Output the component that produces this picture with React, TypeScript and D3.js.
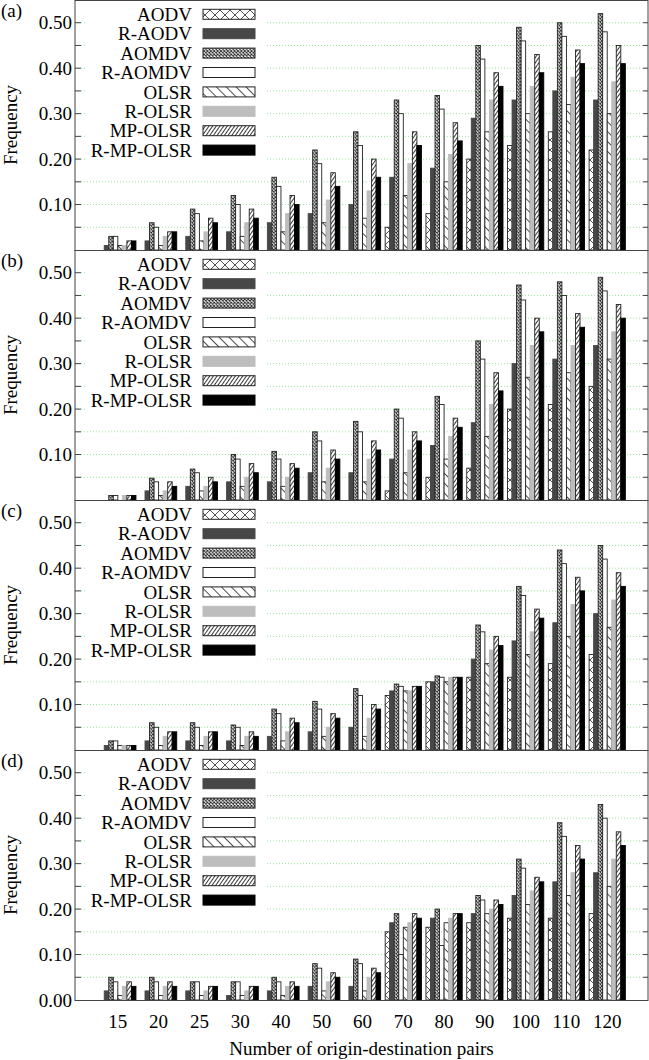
import React from "react";
import * as d3 from "d3";

const categories = ["15", "20", "25", "30", "40", "50", "60", "70", "80", "90", "100", "110", "120"];
const seriesNames = ["AODV", "R-AODV", "AOMDV", "R-AOMDV", "OLSR", "R-OLSR", "MP-OLSR", "R-MP-OLSR"];
const panelLabels = ["(a)", "(b)", "(c)", "(d)"];
const yTickLabels = [0.1, 0.2, 0.3, 0.4, 0.5];

// one row per series, in seriesNames order
const panelA = [
  [0, 0, 0, 0, 0, 0, 0, 0.05, 0.08, 0.2, 0.23, 0.26, 0.22],
  [0.01, 0.02, 0.03, 0.04, 0.06, 0.08, 0.1, 0.16, 0.18, 0.29, 0.33, 0.35, 0.33],
  [0.03, 0.06, 0.09, 0.12, 0.16, 0.22, 0.26, 0.33, 0.34, 0.45, 0.49, 0.5, 0.52],
  [0.03, 0.05, 0.08, 0.1, 0.14, 0.19, 0.23, 0.3, 0.31, 0.42, 0.46, 0.47, 0.48],
  [0.01, 0.01, 0.02, 0.03, 0.04, 0.06, 0.07, 0.12, 0.15, 0.26, 0.3, 0.32, 0.3],
  [0.01, 0.03, 0.04, 0.06, 0.08, 0.11, 0.13, 0.19, 0.21, 0.33, 0.36, 0.38, 0.37],
  [0.02, 0.04, 0.07, 0.09, 0.12, 0.17, 0.2, 0.26, 0.28, 0.39, 0.43, 0.44, 0.45],
  [0.02, 0.04, 0.06, 0.07, 0.1, 0.14, 0.16, 0.23, 0.24, 0.36, 0.39, 0.41, 0.41],
];
const panelB = [
  [0, 0, 0, 0, 0, 0, 0, 0.02, 0.05, 0.07, 0.2, 0.21, 0.25],
  [0, 0.02, 0.03, 0.04, 0.04, 0.06, 0.06, 0.09, 0.12, 0.17, 0.3, 0.31, 0.34],
  [0.01, 0.048, 0.068, 0.1, 0.107, 0.15, 0.173, 0.2, 0.228, 0.35, 0.473, 0.48, 0.49],
  [0.01, 0.04, 0.06, 0.09, 0.09, 0.13, 0.15, 0.18, 0.21, 0.31, 0.44, 0.45, 0.46],
  [0, 0.01, 0.02, 0.03, 0.03, 0.04, 0.04, 0.06, 0.09, 0.14, 0.27, 0.28, 0.31],
  [0.01, 0.02, 0.03, 0.05, 0.05, 0.07, 0.09, 0.11, 0.14, 0.21, 0.34, 0.34, 0.37],
  [0.01, 0.04, 0.05, 0.08, 0.08, 0.11, 0.13, 0.15, 0.18, 0.28, 0.4, 0.41, 0.43],
  [0.01, 0.03, 0.04, 0.06, 0.07, 0.09, 0.11, 0.13, 0.16, 0.24, 0.37, 0.38, 0.4],
];
const panelC = [
  [0, 0, 0, 0, 0, 0, 0, 0.12, 0.15, 0.16, 0.16, 0.19, 0.21],
  [0.01, 0.02, 0.02, 0.02, 0.03, 0.04, 0.05, 0.13, 0.15, 0.2, 0.24, 0.28, 0.3],
  [0.02, 0.06, 0.06, 0.055, 0.09, 0.107, 0.135, 0.145, 0.163, 0.275, 0.36, 0.44, 0.45],
  [0.02, 0.05, 0.05, 0.05, 0.08, 0.09, 0.12, 0.14, 0.16, 0.26, 0.34, 0.41, 0.42],
  [0.01, 0.01, 0.01, 0.01, 0.02, 0.03, 0.03, 0.13, 0.15, 0.19, 0.21, 0.25, 0.27],
  [0.01, 0.03, 0.03, 0.03, 0.04, 0.05, 0.07, 0.13, 0.16, 0.22, 0.26, 0.32, 0.33],
  [0.01, 0.04, 0.04, 0.04, 0.07, 0.08, 0.1, 0.14, 0.16, 0.25, 0.31, 0.38, 0.39],
  [0.01, 0.04, 0.04, 0.03, 0.06, 0.07, 0.09, 0.14, 0.16, 0.23, 0.29, 0.35, 0.36],
];
const panelD = [
  [0, 0, 0, 0, 0, 0, 0, 0.15, 0.16, 0.17, 0.18, 0.18, 0.19],
  [0.02, 0.02, 0.02, 0.01, 0.02, 0.03, 0.03, 0.17, 0.18, 0.19, 0.23, 0.26, 0.28],
  [0.05, 0.05, 0.04, 0.04, 0.05, 0.08, 0.09, 0.19, 0.2, 0.23, 0.31, 0.39, 0.43],
  [0.04, 0.04, 0.04, 0.04, 0.04, 0.07, 0.08, 0.1, 0.12, 0.22, 0.29, 0.36, 0.4],
  [0.01, 0.01, 0.01, 0.01, 0.01, 0.02, 0.02, 0.16, 0.17, 0.19, 0.21, 0.23, 0.25],
  [0.03, 0.03, 0.02, 0.02, 0.03, 0.04, 0.05, 0.17, 0.18, 0.2, 0.24, 0.28, 0.31],
  [0.04, 0.04, 0.03, 0.03, 0.04, 0.06, 0.07, 0.19, 0.19, 0.22, 0.27, 0.34, 0.37],
  [0.03, 0.03, 0.03, 0.03, 0.03, 0.05, 0.06, 0.18, 0.19, 0.21, 0.26, 0.31, 0.34],
];
const panels = [panelA, panelB, panelC, panelD];

const W = 649;
const H = 1060;
const left = 75;
const right = 648;
const panelH = 250;
const font = "'Liberation Serif', 'Times New Roman', serif";
const fs = 19;

// fill per series: solid colours or svg pattern ids
const fills = ["url(#pAodv)", "#474747", "url(#pAomdv)", "#ffffff", "url(#pOlsr)", "#bdbdbd", "url(#pMp)", "#000000"];
const strokes = ["#222", "#474747", "#222", "#222", "#222", "#bdbdbd", "#222", "#000"];
const patterned = [true, false, true, false, true, false, true, false];

const x = d3.scaleLinear().domain([-1.05, 13]).range([left, right]);
const groupW = x(1) - x(0);
const inner = d3
  .scaleBand()
  .domain(seriesNames)
  .range([-groupW * 4 / 9, groupW * 4 / 9]);

function Panel({ idx, data }: { idx: number; data: number[][] }) {
  const top = idx * panelH;
  const y = d3.scaleLinear().domain([0, 0.55]).range([top + panelH, top]);
  const minor = d3.range(1, 11).map(d => d * 0.05);
  const labels = idx === 3 ? [0, ...yTickLabels] : yTickLabels;
  const fmt = d3.format(".2f");
  const bw = inner.bandwidth();
  const legendX = 203;
  const legendY = top + 14.3;
  const rowH = 19.4;

  return (
    <g>
      {/* grid */}
      {minor.map(v => (
        <line
          key={"g" + v}
          x1={left}
          x2={right}
          y1={y(v)}
          y2={y(v)}
          stroke="#9be89b"
          strokeWidth={1}
          strokeDasharray="1,2"
        />
      ))}
      {/* opaque key */}
      <rect x={87} y={top + 1} width={179} height={161} fill="#fff" />
      {seriesNames.map((s, j) => (
        <g key={"k" + s}>
          <text
            x={192}
            y={legendY + j * rowH}
            dy="0.35em"
            textAnchor="end"
            fontFamily={font}
            fontSize={fs}
            fill="#000"
          >
            {s}
          </text>
          {patterned[j] && (
            <rect x={legendX} y={legendY + j * rowH - 5} width={52} height={10} fill="#fff" />
          )}
          <rect
            x={legendX}
            y={legendY + j * rowH - 5}
            width={52}
            height={10}
            fill={fills[j]}
            stroke={strokes[j]}
            strokeWidth={1}
          />
        </g>
      ))}
      {/* bars */}
      {seriesNames.map((s, j) =>
        data[j].map((v, i) =>
          v > 0 ? (
            <g key={s + i}>
              {patterned[j] && (
                <rect x={x(i) + inner(s)!} y={y(v)} width={bw} height={y(0) - y(v)} fill="#fff" />
              )}
              <rect
                x={x(i) + inner(s)!}
                y={y(v)}
                width={bw}
                height={y(0) - y(v)}
                fill={fills[j]}
                stroke={strokes[j]}
                strokeWidth={0.9}
              />
            </g>
          ) : null
        )
      )}
      {/* ticks */}
      {minor.map(v => (
        <g key={"t" + v}>
          <line x1={left} x2={left + 6} y1={y(v)} y2={y(v)} stroke="#444" />
          <line x1={right - 5} x2={right} y1={y(v)} y2={y(v)} stroke="#444" />
        </g>
      ))}
      {labels.map(v => (
        <text
          key={"l" + v}
          x={72}
          y={y(v)}
          dy="0.35em"
          textAnchor="end"
          fontFamily={font}
          fontSize={fs}
          fill="#000"
        >
          {fmt(v)}
        </text>
      ))}
      <text x={1} y={top + 17} fontFamily={font} fontSize={fs} fill="#000">
        {panelLabels[idx]}
      </text>
      <text
        transform={`translate(${17},${top + 125}) rotate(-90)`}
        textAnchor="middle"
        fontFamily={font}
        fontSize={fs}
        fill="#000"
      >
        Frequency
      </text>
      <rect x={left} y={top + 0.5} width={right - left} height={panelH} fill="none" stroke="#444" strokeWidth={1} />
    </g>
  );
}

export default function App() {
  return (
    <svg
      width={W}
      height={H}
      viewBox={`0 0 ${W} ${H}`}
      style={{ position: "absolute", left: 0, top: 0, background: "#fff" }}
    >
      <defs>
        <pattern id="pAodv" patternUnits="userSpaceOnUse" width={10} height={10}>
          <path d="M0,0L10,10M10,0L0,10" stroke="#222" strokeWidth={0.8} fill="none" />
        </pattern>
        <pattern id="pAomdv" patternUnits="userSpaceOnUse" width={3.4} height={3.4}>
          <rect width={3.4} height={3.4} fill="#fff" />
          <path d="M0,0L3.4,3.4M3.4,0L0,3.4" stroke="#222" strokeWidth={0.9} fill="none" />
        </pattern>
        <pattern id="pOlsr" patternUnits="userSpaceOnUse" width={7} height={10} patternTransform="rotate(-45)">
          <line x1={0.5} y1={0} x2={0.5} y2={10} stroke="#222" strokeWidth={0.8} />
        </pattern>
        <pattern id="pMp" patternUnits="userSpaceOnUse" width={3} height={10} patternTransform="rotate(35)">
          <line x1={0.5} y1={0} x2={0.5} y2={10} stroke="#222" strokeWidth={0.9} />
        </pattern>
      </defs>
      {panels.map((p, k) => (
        <Panel key={k} idx={k} data={p} />
      ))}
      {categories.map((c, i) => (
        <text
          key={c}
          x={x(i)}
          y={1028}
          textAnchor="middle"
          fontFamily={font}
          fontSize={fs}
          fill="#000"
        >
          {c}
        </text>
      ))}
      <text x={(left + right) / 2} y={1055} textAnchor="middle" fontFamily={font} fontSize={fs} fill="#000">
        Number of origin-destination pairs
      </text>
    </svg>
  );
}
